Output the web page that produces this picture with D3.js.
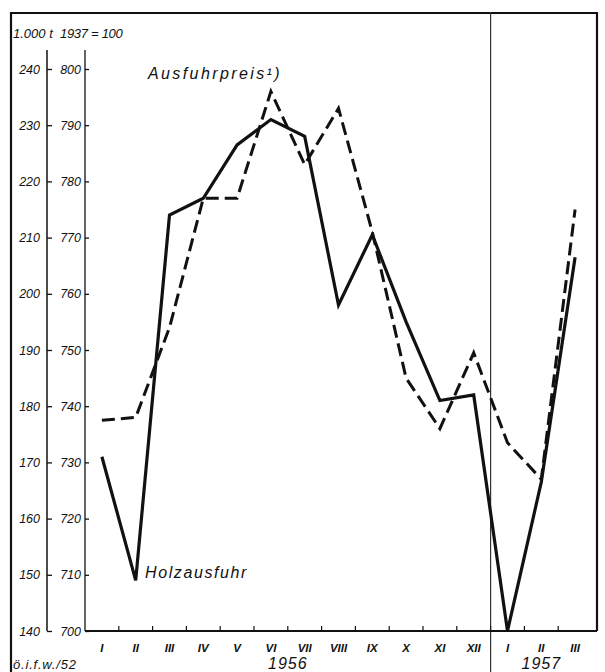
<!DOCTYPE html>
<html>
<head>
<meta charset="utf-8">
<script src="https://cdn.jsdelivr.net/npm/d3@7"></script>
<style>
  body { margin: 0; background: #fff; }
  text { font-family: "Liberation Sans", Arial, sans-serif; font-style: italic; fill: #111; }
</style>
</head>
<body>
<svg id="chart" width="605" height="672"></svg>
<script>
// months Jan 1956 - Mar 1957
var months = ['I', 'II', 'III', 'IV', 'V', 'VI', 'VII', 'VIII', 'IX', 'X', 'XI', 'XII', 'I', 'II', 'III'];
var years = [{label: '1956', from: 0, to: 11}, {label: '1957', from: 12, to: 14}];
// Holzausfuhr, 1.000 t
var holzausfuhr = [171, 149, 214, 217, 226.5, 231, 228, 198, 210.5, 195, 181, 182, 140, 166.5, 206.5];
// Ausfuhrpreis, 1937 = 100
var ausfuhrpreis = [737.5, 738, 754, 777, 777, 796, 783, 793, 771, 745, 736, 749.5, 733.5, 727, 775];
var tonTicks = [140, 150, 160, 170, 180, 190, 200, 210, 220, 230, 240];
var indexTicks = [700, 710, 720, 730, 740, 750, 760, 770, 780, 790, 800];

var svg = d3.select('#chart');
var ink = '#111';
var font = '"Liberation Sans", Arial, sans-serif';

var x = d3.scaleBand().domain(d3.range(months.length)).range([85, 592]).paddingInner(0).paddingOuter(0);
var yT = d3.scaleLinear().domain([140, 240]).range([631, 69]);
var yI = d3.scaleLinear().domain([700, 800]).range([631, 69]);
var cx = function (i) { return x(i) + x.bandwidth() / 2; };

// outer frame
svg.append('path')
    .attr('d', 'M11,672V13H597V631')
    .attr('fill', 'none').attr('stroke', ink).attr('stroke-width', 2.2);

// separator between years
svg.append('line')
    .attr('x1', x(12)).attr('x2', x(12)).attr('y1', 12).attr('y2', 672)
    .attr('stroke', '#333').attr('stroke-width', 1.2);

// header
svg.append('text').attr('x', 13).attr('y', 38).attr('font-size', 13).text('1.000 t');
svg.append('text').attr('x', 60).attr('y', 38).attr('font-size', 13).attr('letter-spacing', -0.3).text('1937 = 100');

// left axis, 1.000 t
var axT = svg.append('g').attr('transform', 'translate(47,0)')
    .call(d3.axisLeft(yT).tickValues(tonTicks).tickSizeInner(-5).tickSizeOuter(0).tickPadding(7));
axT.select('.domain').remove();
axT.append('line').attr('y1', 50).attr('y2', 631).attr('stroke', ink).attr('stroke-width', 1.5);

// inner axis, 1937 = 100
var axI = svg.append('g').attr('transform', 'translate(85,0)')
    .call(d3.axisLeft(yI).tickValues(indexTicks).tickSizeInner(-4).tickSizeOuter(0).tickPadding(4));
axI.select('.domain').remove();
axI.append('line').attr('y1', 50).attr('y2', 631).attr('stroke', ink).attr('stroke-width', 1.3);

svg.selectAll('.tick line').attr('stroke', ink).attr('stroke-width', 1.3);
svg.selectAll('.tick text').attr('font-size', 12.5).attr('fill', ink)
    .style('font-family', font).style('font-style', 'italic');

// bottom axis
var axB = svg.append('g').attr('transform', 'translate(0,631)')
    .call(d3.axisBottom(x).tickSize(0).tickPadding(13).tickFormat(function (i) { return months[i]; }));
axB.select('.domain').remove();
axB.selectAll('text').attr('font-size', 11.5).attr('fill', ink).attr('font-weight', 'bold')
    .style('font-family', font).style('font-style', 'italic');
axB.append('line').attr('x1', 85).attr('x2', 597).attr('stroke', ink).attr('stroke-width', 1.8);
axB.selectAll('.bound').data(d3.range(1, months.length)).enter().append('line')
    .attr('x1', function (i) { return x(i); }).attr('x2', function (i) { return x(i); })
    .attr('y1', 0).attr('y2', -5).attr('stroke', ink).attr('stroke-width', 1.2);

// year labels
svg.selectAll('.year').data(years).enter().append('text')
    .attr('x', function (d) { return (x(d.from) + x(d.to) + x.bandwidth()) / 2; })
    .attr('y', 669).attr('text-anchor', 'middle').attr('font-size', 16).attr('letter-spacing', 1)
    .text(function (d) { return d.label; });

svg.append('text').attr('x', 13).attr('y', 669).attr('font-size', 13).attr('letter-spacing', 0.8).text('ö.i.f.w./52');

// series
var lineT = d3.line().x(function (d, i) { return cx(i); }).y(function (d) { return yT(d); });
var lineI = d3.line().x(function (d, i) { return cx(i); }).y(function (d) { return yI(d); });

svg.append('path').datum(ausfuhrpreis).attr('d', lineI)
    .attr('fill', 'none').attr('stroke', ink).attr('stroke-width', 3)
    .attr('stroke-dasharray', '13,6').attr('stroke-linejoin', 'miter');
svg.append('path').datum(holzausfuhr).attr('d', lineT)
    .attr('fill', 'none').attr('stroke', ink).attr('stroke-width', 3.2)
    .attr('stroke-linejoin', 'miter');

// series labels
svg.append('text').attr('x', 148).attr('y', 79).attr('font-size', 16).attr('letter-spacing', 2.4).text('Ausfuhrpreis¹)');
svg.append('text').attr('x', 145).attr('y', 578).attr('font-size', 16).attr('letter-spacing', 1.6).text('Holzausfuhr');
</script>
</body>
</html>
